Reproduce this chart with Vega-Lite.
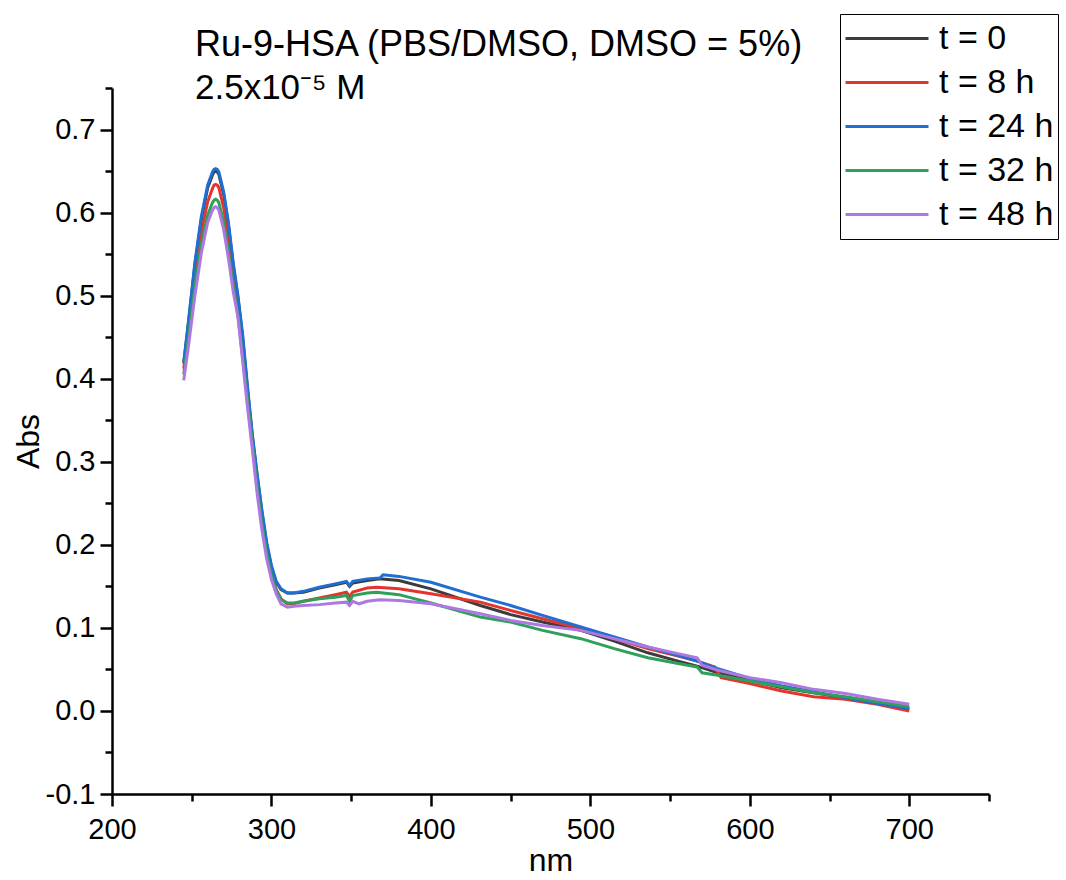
{
  "$schema": "https://vega.github.io/schema/vega-lite/v6.json",
  "autosize": {"type": "none"},
  "width": 877,
  "height": 706,
  "padding": {"left": 112, "top": 88, "right": 77, "bottom": 86},
  "background": "white",
  "config": {"view": {"stroke": null}},
  "title": {
    "text": "Ru-9-HSA (PBS/DMSO, DMSO = 5%)",
    "subtitle": "2.5x10⁻⁵ M",
    "anchor": "start",
    "frame": "group",
    "dx": 83,
    "offset": -93,
    "font": "Liberation Sans",
    "fontSize": 36,
    "fontWeight": "normal",
    "color": "black",
    "subtitleFont": "Liberation Sans",
    "subtitleFontSize": 35,
    "subtitleColor": "black",
    "subtitlePadding": 7
  },
  "data": {
    "values": [
      {"nm": 245, "t": "t = 0", "abs": 0.418}, {"nm": 248, "t": "t = 0", "abs": 0.468}, {"nm": 252, "t": "t = 0", "abs": 0.537}, {"nm": 256, "t": "t = 0", "abs": 0.591}, {"nm": 260, "t": "t = 0", "abs": 0.630}, {"nm": 263, "t": "t = 0", "abs": 0.645}, {"nm": 264, "t": "t = 0", "abs": 0.649}, {"nm": 265, "t": "t = 0", "abs": 0.650}, {"nm": 266, "t": "t = 0", "abs": 0.649}, {"nm": 267, "t": "t = 0", "abs": 0.646}, {"nm": 270, "t": "t = 0", "abs": 0.622}, {"nm": 273, "t": "t = 0", "abs": 0.585}, {"nm": 276, "t": "t = 0", "abs": 0.537}, {"nm": 279, "t": "t = 0", "abs": 0.497}, {"nm": 282, "t": "t = 0", "abs": 0.448}, {"nm": 285, "t": "t = 0", "abs": 0.387}, {"nm": 288, "t": "t = 0", "abs": 0.331}, {"nm": 291, "t": "t = 0", "abs": 0.283}, {"nm": 294, "t": "t = 0", "abs": 0.239}, {"nm": 297, "t": "t = 0", "abs": 0.201}, {"nm": 300, "t": "t = 0", "abs": 0.173}, {"nm": 303, "t": "t = 0", "abs": 0.155}, {"nm": 306, "t": "t = 0", "abs": 0.146}, {"nm": 310, "t": "t = 0", "abs": 0.142}, {"nm": 314, "t": "t = 0", "abs": 0.142}, {"nm": 320, "t": "t = 0", "abs": 0.143}, {"nm": 330, "t": "t = 0", "abs": 0.148}, {"nm": 340, "t": "t = 0", "abs": 0.152}, {"nm": 347, "t": "t = 0", "abs": 0.155}, {"nm": 349, "t": "t = 0", "abs": 0.150}, {"nm": 351, "t": "t = 0", "abs": 0.154}, {"nm": 360, "t": "t = 0", "abs": 0.157}, {"nm": 368, "t": "t = 0", "abs": 0.159}, {"nm": 380, "t": "t = 0", "abs": 0.157}, {"nm": 400, "t": "t = 0", "abs": 0.147}, {"nm": 431, "t": "t = 0", "abs": 0.127}, {"nm": 450, "t": "t = 0", "abs": 0.116}, {"nm": 470, "t": "t = 0", "abs": 0.107}, {"nm": 494, "t": "t = 0", "abs": 0.097}, {"nm": 515, "t": "t = 0", "abs": 0.084}, {"nm": 536, "t": "t = 0", "abs": 0.070}, {"nm": 555, "t": "t = 0", "abs": 0.060}, {"nm": 567, "t": "t = 0", "abs": 0.054}, {"nm": 580, "t": "t = 0", "abs": 0.046}, {"nm": 600, "t": "t = 0", "abs": 0.037}, {"nm": 620, "t": "t = 0", "abs": 0.028}, {"nm": 640, "t": "t = 0", "abs": 0.022}, {"nm": 660, "t": "t = 0", "abs": 0.016}, {"nm": 680, "t": "t = 0", "abs": 0.009}, {"nm": 700, "t": "t = 0", "abs": 0.002},

      {"nm": 245, "t": "t = 8 h", "abs": 0.412}, {"nm": 248, "t": "t = 8 h", "abs": 0.458}, {"nm": 252, "t": "t = 8 h", "abs": 0.524}, {"nm": 256, "t": "t = 8 h", "abs": 0.576}, {"nm": 260, "t": "t = 8 h", "abs": 0.613}, {"nm": 263, "t": "t = 8 h", "abs": 0.629}, {"nm": 264, "t": "t = 8 h", "abs": 0.633}, {"nm": 265, "t": "t = 8 h", "abs": 0.634}, {"nm": 266, "t": "t = 8 h", "abs": 0.633}, {"nm": 267, "t": "t = 8 h", "abs": 0.630}, {"nm": 270, "t": "t = 8 h", "abs": 0.606}, {"nm": 273, "t": "t = 8 h", "abs": 0.570}, {"nm": 276, "t": "t = 8 h", "abs": 0.525}, {"nm": 279, "t": "t = 8 h", "abs": 0.485}, {"nm": 282, "t": "t = 8 h", "abs": 0.435}, {"nm": 285, "t": "t = 8 h", "abs": 0.380}, {"nm": 288, "t": "t = 8 h", "abs": 0.325}, {"nm": 291, "t": "t = 8 h", "abs": 0.275}, {"nm": 294, "t": "t = 8 h", "abs": 0.230}, {"nm": 297, "t": "t = 8 h", "abs": 0.194}, {"nm": 300, "t": "t = 8 h", "abs": 0.166}, {"nm": 303, "t": "t = 8 h", "abs": 0.146}, {"nm": 306, "t": "t = 8 h", "abs": 0.135}, {"nm": 310, "t": "t = 8 h", "abs": 0.129}, {"nm": 314, "t": "t = 8 h", "abs": 0.129}, {"nm": 320, "t": "t = 8 h", "abs": 0.132}, {"nm": 330, "t": "t = 8 h", "abs": 0.136}, {"nm": 340, "t": "t = 8 h", "abs": 0.140}, {"nm": 347, "t": "t = 8 h", "abs": 0.143}, {"nm": 349, "t": "t = 8 h", "abs": 0.138}, {"nm": 351, "t": "t = 8 h", "abs": 0.143}, {"nm": 360, "t": "t = 8 h", "abs": 0.148}, {"nm": 366, "t": "t = 8 h", "abs": 0.149}, {"nm": 380, "t": "t = 8 h", "abs": 0.147}, {"nm": 400, "t": "t = 8 h", "abs": 0.141}, {"nm": 431, "t": "t = 8 h", "abs": 0.131}, {"nm": 450, "t": "t = 8 h", "abs": 0.121}, {"nm": 470, "t": "t = 8 h", "abs": 0.111}, {"nm": 494, "t": "t = 8 h", "abs": 0.099}, {"nm": 515, "t": "t = 8 h", "abs": 0.087}, {"nm": 536, "t": "t = 8 h", "abs": 0.075}, {"nm": 555, "t": "t = 8 h", "abs": 0.066}, {"nm": 567, "t": "t = 8 h", "abs": 0.060}, {"nm": 578, "t": "t = 8 h", "abs": 0.053}, {"nm": 582, "t": "t = 8 h", "abs": 0.040}, {"nm": 600, "t": "t = 8 h", "abs": 0.033}, {"nm": 620, "t": "t = 8 h", "abs": 0.024}, {"nm": 640, "t": "t = 8 h", "abs": 0.017}, {"nm": 660, "t": "t = 8 h", "abs": 0.014}, {"nm": 680, "t": "t = 8 h", "abs": 0.008}, {"nm": 700, "t": "t = 8 h", "abs": 0.000},

      {"nm": 245, "t": "t = 24 h", "abs": 0.420}, {"nm": 248, "t": "t = 24 h", "abs": 0.470}, {"nm": 252, "t": "t = 24 h", "abs": 0.540}, {"nm": 256, "t": "t = 24 h", "abs": 0.595}, {"nm": 260, "t": "t = 24 h", "abs": 0.633}, {"nm": 263, "t": "t = 24 h", "abs": 0.649}, {"nm": 264, "t": "t = 24 h", "abs": 0.652}, {"nm": 265, "t": "t = 24 h", "abs": 0.653}, {"nm": 266, "t": "t = 24 h", "abs": 0.652}, {"nm": 267, "t": "t = 24 h", "abs": 0.649}, {"nm": 270, "t": "t = 24 h", "abs": 0.625}, {"nm": 273, "t": "t = 24 h", "abs": 0.588}, {"nm": 276, "t": "t = 24 h", "abs": 0.540}, {"nm": 279, "t": "t = 24 h", "abs": 0.500}, {"nm": 282, "t": "t = 24 h", "abs": 0.452}, {"nm": 285, "t": "t = 24 h", "abs": 0.390}, {"nm": 288, "t": "t = 24 h", "abs": 0.333}, {"nm": 291, "t": "t = 24 h", "abs": 0.286}, {"nm": 294, "t": "t = 24 h", "abs": 0.242}, {"nm": 297, "t": "t = 24 h", "abs": 0.203}, {"nm": 300, "t": "t = 24 h", "abs": 0.175}, {"nm": 303, "t": "t = 24 h", "abs": 0.156}, {"nm": 306, "t": "t = 24 h", "abs": 0.147}, {"nm": 310, "t": "t = 24 h", "abs": 0.142}, {"nm": 314, "t": "t = 24 h", "abs": 0.142}, {"nm": 320, "t": "t = 24 h", "abs": 0.144}, {"nm": 330, "t": "t = 24 h", "abs": 0.149}, {"nm": 340, "t": "t = 24 h", "abs": 0.153}, {"nm": 347, "t": "t = 24 h", "abs": 0.156}, {"nm": 349, "t": "t = 24 h", "abs": 0.151}, {"nm": 351, "t": "t = 24 h", "abs": 0.156}, {"nm": 360, "t": "t = 24 h", "abs": 0.159}, {"nm": 368, "t": "t = 24 h", "abs": 0.160}, {"nm": 370, "t": "t = 24 h", "abs": 0.164}, {"nm": 380, "t": "t = 24 h", "abs": 0.162}, {"nm": 400, "t": "t = 24 h", "abs": 0.155}, {"nm": 431, "t": "t = 24 h", "abs": 0.137}, {"nm": 450, "t": "t = 24 h", "abs": 0.127}, {"nm": 470, "t": "t = 24 h", "abs": 0.115}, {"nm": 494, "t": "t = 24 h", "abs": 0.101}, {"nm": 515, "t": "t = 24 h", "abs": 0.089}, {"nm": 536, "t": "t = 24 h", "abs": 0.077}, {"nm": 555, "t": "t = 24 h", "abs": 0.067}, {"nm": 567, "t": "t = 24 h", "abs": 0.060}, {"nm": 580, "t": "t = 24 h", "abs": 0.051}, {"nm": 600, "t": "t = 24 h", "abs": 0.039}, {"nm": 620, "t": "t = 24 h", "abs": 0.030}, {"nm": 640, "t": "t = 24 h", "abs": 0.023}, {"nm": 660, "t": "t = 24 h", "abs": 0.016}, {"nm": 680, "t": "t = 24 h", "abs": 0.009}, {"nm": 700, "t": "t = 24 h", "abs": 0.003},

      {"nm": 245, "t": "t = 32 h", "abs": 0.405}, {"nm": 248, "t": "t = 32 h", "abs": 0.450}, {"nm": 252, "t": "t = 32 h", "abs": 0.512}, {"nm": 256, "t": "t = 32 h", "abs": 0.562}, {"nm": 260, "t": "t = 32 h", "abs": 0.597}, {"nm": 263, "t": "t = 32 h", "abs": 0.612}, {"nm": 264, "t": "t = 32 h", "abs": 0.615}, {"nm": 265, "t": "t = 32 h", "abs": 0.616}, {"nm": 266, "t": "t = 32 h", "abs": 0.615}, {"nm": 267, "t": "t = 32 h", "abs": 0.612}, {"nm": 270, "t": "t = 32 h", "abs": 0.589}, {"nm": 273, "t": "t = 32 h", "abs": 0.553}, {"nm": 276, "t": "t = 32 h", "abs": 0.512}, {"nm": 279, "t": "t = 32 h", "abs": 0.476}, {"nm": 282, "t": "t = 32 h", "abs": 0.425}, {"nm": 285, "t": "t = 32 h", "abs": 0.375}, {"nm": 288, "t": "t = 32 h", "abs": 0.322}, {"nm": 291, "t": "t = 32 h", "abs": 0.270}, {"nm": 294, "t": "t = 32 h", "abs": 0.226}, {"nm": 297, "t": "t = 32 h", "abs": 0.190}, {"nm": 300, "t": "t = 32 h", "abs": 0.163}, {"nm": 303, "t": "t = 32 h", "abs": 0.145}, {"nm": 306, "t": "t = 32 h", "abs": 0.134}, {"nm": 310, "t": "t = 32 h", "abs": 0.130}, {"nm": 314, "t": "t = 32 h", "abs": 0.130}, {"nm": 320, "t": "t = 32 h", "abs": 0.132}, {"nm": 330, "t": "t = 32 h", "abs": 0.135}, {"nm": 340, "t": "t = 32 h", "abs": 0.137}, {"nm": 347, "t": "t = 32 h", "abs": 0.139}, {"nm": 349, "t": "t = 32 h", "abs": 0.132}, {"nm": 351, "t": "t = 32 h", "abs": 0.139}, {"nm": 360, "t": "t = 32 h", "abs": 0.142}, {"nm": 366, "t": "t = 32 h", "abs": 0.143}, {"nm": 380, "t": "t = 32 h", "abs": 0.140}, {"nm": 400, "t": "t = 32 h", "abs": 0.130}, {"nm": 431, "t": "t = 32 h", "abs": 0.113}, {"nm": 450, "t": "t = 32 h", "abs": 0.107}, {"nm": 470, "t": "t = 32 h", "abs": 0.097}, {"nm": 494, "t": "t = 32 h", "abs": 0.087}, {"nm": 515, "t": "t = 32 h", "abs": 0.075}, {"nm": 536, "t": "t = 32 h", "abs": 0.064}, {"nm": 555, "t": "t = 32 h", "abs": 0.057}, {"nm": 567, "t": "t = 32 h", "abs": 0.053}, {"nm": 570, "t": "t = 32 h", "abs": 0.046}, {"nm": 580, "t": "t = 32 h", "abs": 0.043}, {"nm": 600, "t": "t = 32 h", "abs": 0.036}, {"nm": 620, "t": "t = 32 h", "abs": 0.029}, {"nm": 640, "t": "t = 32 h", "abs": 0.022}, {"nm": 660, "t": "t = 32 h", "abs": 0.017}, {"nm": 680, "t": "t = 32 h", "abs": 0.011}, {"nm": 700, "t": "t = 32 h", "abs": 0.005},

      {"nm": 245, "t": "t = 48 h", "abs": 0.398}, {"nm": 248, "t": "t = 48 h", "abs": 0.440}, {"nm": 252, "t": "t = 48 h", "abs": 0.500}, {"nm": 256, "t": "t = 48 h", "abs": 0.551}, {"nm": 260, "t": "t = 48 h", "abs": 0.588}, {"nm": 263, "t": "t = 48 h", "abs": 0.603}, {"nm": 264, "t": "t = 48 h", "abs": 0.606}, {"nm": 265, "t": "t = 48 h", "abs": 0.607}, {"nm": 266, "t": "t = 48 h", "abs": 0.606}, {"nm": 267, "t": "t = 48 h", "abs": 0.603}, {"nm": 270, "t": "t = 48 h", "abs": 0.580}, {"nm": 273, "t": "t = 48 h", "abs": 0.545}, {"nm": 276, "t": "t = 48 h", "abs": 0.505}, {"nm": 279, "t": "t = 48 h", "abs": 0.474}, {"nm": 282, "t": "t = 48 h", "abs": 0.420}, {"nm": 285, "t": "t = 48 h", "abs": 0.365}, {"nm": 288, "t": "t = 48 h", "abs": 0.315}, {"nm": 291, "t": "t = 48 h", "abs": 0.262}, {"nm": 294, "t": "t = 48 h", "abs": 0.218}, {"nm": 297, "t": "t = 48 h", "abs": 0.183}, {"nm": 300, "t": "t = 48 h", "abs": 0.158}, {"nm": 303, "t": "t = 48 h", "abs": 0.141}, {"nm": 306, "t": "t = 48 h", "abs": 0.129}, {"nm": 310, "t": "t = 48 h", "abs": 0.125}, {"nm": 314, "t": "t = 48 h", "abs": 0.126}, {"nm": 320, "t": "t = 48 h", "abs": 0.127}, {"nm": 330, "t": "t = 48 h", "abs": 0.128}, {"nm": 340, "t": "t = 48 h", "abs": 0.130}, {"nm": 347, "t": "t = 48 h", "abs": 0.131}, {"nm": 349, "t": "t = 48 h", "abs": 0.127}, {"nm": 351, "t": "t = 48 h", "abs": 0.132}, {"nm": 355, "t": "t = 48 h", "abs": 0.129}, {"nm": 360, "t": "t = 48 h", "abs": 0.132}, {"nm": 368, "t": "t = 48 h", "abs": 0.134}, {"nm": 380, "t": "t = 48 h", "abs": 0.133}, {"nm": 400, "t": "t = 48 h", "abs": 0.129}, {"nm": 431, "t": "t = 48 h", "abs": 0.117}, {"nm": 450, "t": "t = 48 h", "abs": 0.109}, {"nm": 470, "t": "t = 48 h", "abs": 0.103}, {"nm": 494, "t": "t = 48 h", "abs": 0.097}, {"nm": 515, "t": "t = 48 h", "abs": 0.087}, {"nm": 536, "t": "t = 48 h", "abs": 0.077}, {"nm": 555, "t": "t = 48 h", "abs": 0.069}, {"nm": 567, "t": "t = 48 h", "abs": 0.064}, {"nm": 570, "t": "t = 48 h", "abs": 0.055}, {"nm": 580, "t": "t = 48 h", "abs": 0.049}, {"nm": 600, "t": "t = 48 h", "abs": 0.040}, {"nm": 620, "t": "t = 48 h", "abs": 0.034}, {"nm": 640, "t": "t = 48 h", "abs": 0.026}, {"nm": 660, "t": "t = 48 h", "abs": 0.021}, {"nm": 680, "t": "t = 48 h", "abs": 0.014}, {"nm": 700, "t": "t = 48 h", "abs": 0.008}
    ]
  },
  "mark": {"type": "line", "strokeWidth": 3, "interpolate": "linear"},
  "encoding": {
    "x": {
      "field": "nm", "type": "quantitative",
      "scale": {"domain": [200, 750], "nice": false, "zero": false},
      "axis": {
        "title": "nm",
        "values": [200, 250, 300, 350, 400, 450, 500, 550, 600, 650, 700, 750],
        "labelExpr": "datum.value % 100 == 0 ? datum.label : ''",
        "tickSize": {"condition": {"test": "datum.value % 100 == 0", "value": 12}, "value": 7},
        "labelOverlap": false, "labelFlush": false, "grid": false,
        "domainColor": "black", "domainWidth": 2.5, "tickColor": "black", "tickWidth": 2.5,
        "labelFont": "Liberation Sans", "labelFontSize": 29, "labelColor": "black", "labelPadding": 9,
        "titleFont": "Liberation Sans", "titleFontSize": 32, "titleFontWeight": "normal", "titleColor": "black", "titlePadding": 1
      }
    },
    "y": {
      "field": "abs", "type": "quantitative",
      "scale": {"domain": [-0.1, 0.75], "nice": false, "zero": false},
      "axis": {
        "title": "Abs",
        "values": [-0.1, -0.05, 0, 0.05, 0.1, 0.15, 0.2, 0.25, 0.3, 0.35, 0.4, 0.45, 0.5, 0.55, 0.6, 0.65, 0.7, 0.75],
        "labelExpr": "abs(round(datum.value*20)) % 2 == 1 ? '' : replace(format(datum.value, '.1f'), '\u2212', '-')",
        "tickSize": {"condition": {"test": "abs(round(datum.value*20)) % 2 == 0", "value": 12}, "value": 7},
        "labelOverlap": false, "labelFlush": false, "grid": false,
        "domainColor": "black", "domainWidth": 2.5, "tickColor": "black", "tickWidth": 2.5,
        "labelFont": "Liberation Sans", "labelFontSize": 29, "labelColor": "black", "labelPadding": 5,
        "titleFont": "Liberation Sans", "titleFontSize": 32, "titleFontWeight": "normal", "titleColor": "black", "titlePadding": 0
      }
    },
    "color": {
      "field": "t", "type": "nominal",
      "scale": {
        "domain": ["t = 0", "t = 8 h", "t = 24 h", "t = 32 h", "t = 48 h"],
        "range": ["#3c3c3c", "#e3342f", "#1f6ed1", "#2ea05a", "#ad78e0"]
      },
      "legend": {
        "title": null, "orient": "none", "legendX": 728, "legendY": -74,
        "symbolType": "stroke", "symbolSize": 6889, "symbolStrokeWidth": 3,
        "labelFont": "Liberation Sans", "labelFontSize": 34, "labelColor": "black", "labelOffset": 9, "labelLimit": 0,
        "clipHeight": 41, "rowPadding": 3, "padding": 4,
        "strokeColor": "black", "fillColor": "white"
      }
    }
  }
}
